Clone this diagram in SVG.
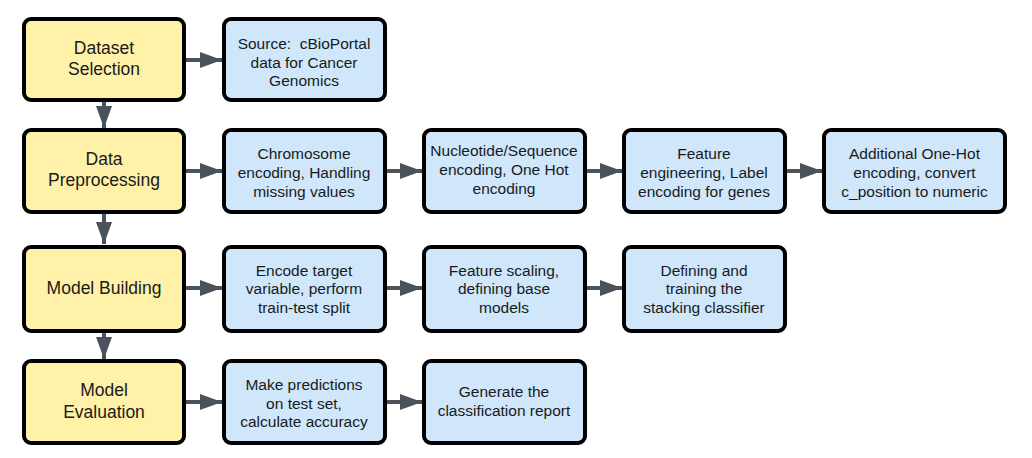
<svg xmlns="http://www.w3.org/2000/svg" width="1032" height="458" viewBox="0 0 1032 458">
<style>
.y{fill:#FFF1A8;stroke:#000;stroke-width:4}
.b{fill:#CFE6FB;stroke:#000;stroke-width:4}
text{font-family:"Liberation Sans",Arial,sans-serif;fill:#1a1a1a;text-anchor:middle}
.ty{font-size:17.5px}
.tb{font-size:15.5px}
.c{stroke:#4A525B;stroke-width:4;fill:none}
</style>
<defs>
<marker id="ah" markerUnits="userSpaceOnUse" markerWidth="22" markerHeight="16" refX="22" refY="8" orient="auto">
<path d="M0,0 L22,8 L0,16 z" fill="#4A525B"/>
</marker>
</defs>
<rect width="1032" height="458" fill="#fff"/>
<g id="connectors">
<line class="c" x1="185" y1="60" x2="222" y2="60" marker-end="url(#ah)"/>
<line class="c" x1="185" y1="171" x2="222" y2="171" marker-end="url(#ah)"/>
<line class="c" x1="387" y1="171" x2="422" y2="171" marker-end="url(#ah)"/>
<line class="c" x1="587" y1="171" x2="622" y2="171" marker-end="url(#ah)"/>
<line class="c" x1="787" y1="171" x2="822" y2="171" marker-end="url(#ah)"/>
<line class="c" x1="185" y1="288" x2="222" y2="288" marker-end="url(#ah)"/>
<line class="c" x1="387" y1="288" x2="422" y2="288" marker-end="url(#ah)"/>
<line class="c" x1="587" y1="288" x2="622" y2="288" marker-end="url(#ah)"/>
<line class="c" x1="185" y1="402" x2="222" y2="402" marker-end="url(#ah)"/>
<line class="c" x1="387" y1="402" x2="422" y2="402" marker-end="url(#ah)"/>
<line class="c" x1="104" y1="101" x2="104" y2="128" marker-end="url(#ah)"/>
<line class="c" x1="104" y1="213" x2="104" y2="244" marker-end="url(#ah)"/>
<line class="c" x1="104" y1="332" x2="104" y2="359" marker-end="url(#ah)"/>
</g>
<g id="dataset-selection"><rect class="y" x="24" y="19" width="160" height="81" rx="7"/>
<text class="ty" x="104" y="54">Dataset</text><text class="ty" x="104" y="75">Selection</text></g>
<g id="source"><rect class="b" x="224" y="19" width="161" height="81" rx="7"/>
<text class="tb" x="304" y="48.5">Source:&#160; cBioPortal</text><text class="tb" x="304" y="67.5">data for Cancer</text><text class="tb" x="304" y="86">Genomics</text></g>
<g id="data-preprocessing"><rect class="y" x="24" y="130" width="160" height="82" rx="7"/>
<text class="ty" x="104" y="165">Data</text><text class="ty" x="104" y="186">Preprocessing</text></g>
<g id="chromosome"><rect class="b" x="224" y="130" width="161" height="82" rx="7"/>
<text class="tb" x="304" y="159">Chromosome</text><text class="tb" x="304" y="178">encoding, Handling</text><text class="tb" x="304" y="196.5">missing values</text></g>
<g id="nucleotide"><rect class="b" x="424" y="130" width="161" height="82" rx="7"/>
<text class="tb" x="504" y="156">Nucleotide/Sequence</text><text class="tb" x="504" y="175">encoding, One Hot</text><text class="tb" x="504" y="193.5">encoding</text></g>
<g id="feature-engineering"><rect class="b" x="624" y="130" width="161" height="82" rx="7"/>
<text class="tb" x="704" y="159">Feature</text><text class="tb" x="704" y="178">engineering, Label</text><text class="tb" x="704" y="196.5">encoding for genes</text></g>
<g id="additional-onehot"><rect class="b" x="824" y="130" width="181" height="82" rx="7"/>
<text class="tb" x="914.5" y="159">Additional One-Hot</text><text class="tb" x="914.5" y="178">encoding, convert</text><text class="tb" x="914.5" y="196.5">c_position to numeric</text></g>
<g id="model-building"><rect class="y" x="24" y="247" width="160" height="84" rx="7"/>
<text class="ty" x="104" y="293.5">Model Building</text></g>
<g id="encode-target"><rect class="b" x="224" y="247" width="161" height="84" rx="7"/>
<text class="tb" x="304" y="275.5">Encode target</text><text class="tb" x="304" y="294">variable, perform</text><text class="tb" x="304" y="312.5">train-test split</text></g>
<g id="feature-scaling"><rect class="b" x="424" y="247" width="161" height="84" rx="7"/>
<text class="tb" x="504" y="275.5">Feature scaling,</text><text class="tb" x="504" y="294">defining base</text><text class="tb" x="504" y="312.5">models</text></g>
<g id="stacking"><rect class="b" x="624" y="247" width="161" height="84" rx="7"/>
<text class="tb" x="704" y="275.5">Defining and</text><text class="tb" x="704" y="294">training the</text><text class="tb" x="704" y="312.5">stacking classifier</text></g>
<g id="model-evaluation"><rect class="y" x="24" y="361" width="160" height="82" rx="7"/>
<text class="ty" x="104" y="396">Model</text><text class="ty" x="104" y="418">Evaluation</text></g>
<g id="predictions"><rect class="b" x="224" y="361" width="161" height="82" rx="7"/>
<text class="tb" x="304" y="390">Make predictions</text><text class="tb" x="304" y="408.5">on test set,</text><text class="tb" x="304" y="427">calculate accuracy</text></g>
<g id="report"><rect class="b" x="424" y="361" width="161" height="82" rx="7"/>
<text class="tb" x="504" y="397">Generate the</text><text class="tb" x="504" y="416">classification report</text></g>
</svg>
